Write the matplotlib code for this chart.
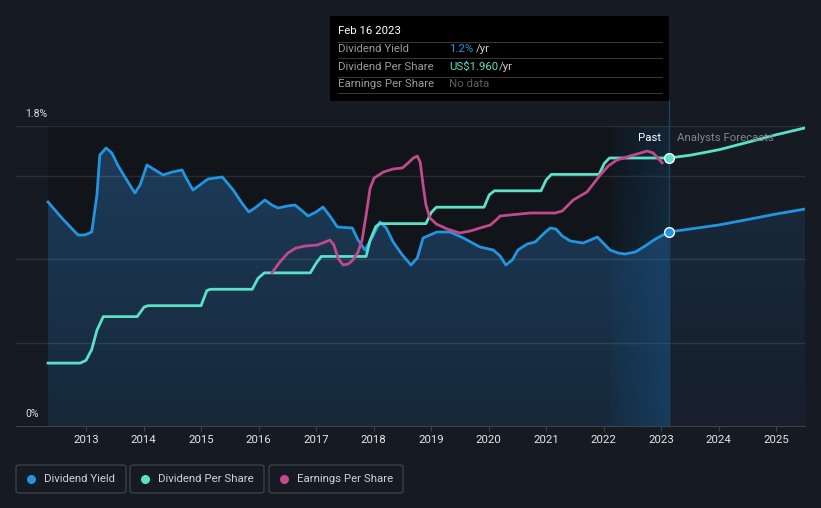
import matplotlib
matplotlib.use("Agg")
import matplotlib.pyplot as plt
import numpy as np
from matplotlib.colors import to_rgb
from matplotlib.lines import Line2D
from matplotlib.patches import Rectangle, FancyBboxPatch

plt.rcParams['font.family'] = ['Roboto', 'DejaVu Sans']

# ---- data ----
yield_dates = [2012.34, 2012.58, 2012.86, 2012.98, 2013.10, 2013.19, 2013.24, 2013.35, 2013.45, 2013.56,
               2013.73, 2013.85, 2013.94, 2014.06, 2014.20, 2014.34, 2014.50, 2014.67, 2014.76, 2014.86,
               2014.98, 2015.12, 2015.37, 2015.56, 2015.71, 2015.83, 2015.96, 2016.11, 2016.23, 2016.34,
               2016.50, 2016.63, 2016.72, 2016.86, 2017.00, 2017.12, 2017.24, 2017.37, 2017.63, 2017.73,
               2017.85, 2017.97, 2018.11, 2018.22, 2018.34, 2018.50, 2018.65, 2018.76, 2018.86, 2019.10,
               2019.33, 2019.56, 2019.85, 2020.08, 2020.20, 2020.30, 2020.41, 2020.51, 2020.67, 2020.81,
               2020.95, 2021.07, 2021.17, 2021.28, 2021.42, 2021.64, 2021.77, 2021.89, 2021.99, 2022.11,
               2022.25, 2022.37, 2022.55, 2022.72, 2022.90, 2023.13]
yield_pct = [1.344, 1.248, 1.146, 1.146, 1.164, 1.386, 1.626, 1.668, 1.638, 1.560,
             1.464, 1.398, 1.446, 1.566, 1.536, 1.506, 1.524, 1.536, 1.476, 1.416,
             1.446, 1.482, 1.494, 1.416, 1.338, 1.284, 1.314, 1.356, 1.326, 1.308,
             1.320, 1.326, 1.302, 1.260, 1.284, 1.314, 1.260, 1.194, 1.188, 1.116,
             1.056, 1.128, 1.224, 1.188, 1.104, 1.026, 0.966, 1.008, 1.128, 1.164,
             1.164, 1.128, 1.074, 1.056, 1.020, 0.966, 0.996, 1.056, 1.092, 1.104,
             1.152, 1.188, 1.182, 1.140, 1.110, 1.098, 1.116, 1.134, 1.098, 1.056,
             1.038, 1.032, 1.044, 1.080, 1.122, 1.164]
yield_fc_dates = [2023.13, 2023.50, 2024.00, 2024.55, 2025.00, 2025.50]
yield_fc_pct = [1.164, 1.182, 1.206, 1.242, 1.272, 1.302]

dps_dates = [2012.34, 2012.90, 2013.00, 2013.10, 2013.19, 2013.30, 2013.89, 2014.01, 2014.08, 2015.00,
             2015.10, 2015.16, 2015.89, 2015.99, 2016.10, 2016.90, 2017.00, 2017.09, 2017.87, 2017.94,
             2018.04, 2018.11, 2018.91, 2019.00, 2019.09, 2019.92, 2020.01, 2020.10, 2020.91, 2021.00,
             2021.09, 2021.92, 2022.01, 2022.10, 2023.13]
dps_usd = [0.46, 0.46, 0.48, 0.56, 0.70, 0.80, 0.80, 0.87, 0.88, 0.88,
           0.99, 1.00, 1.00, 1.08, 1.12, 1.12, 1.19, 1.24, 1.24, 1.36,
           1.46, 1.48, 1.48, 1.56, 1.60, 1.60, 1.69, 1.72, 1.72, 1.80,
           1.84, 1.84, 1.92, 1.96, 1.96]
dps_fc_dates = [2023.13, 2023.50, 2024.00, 2024.55, 2025.00, 2025.50]
dps_fc_usd = [1.96, 1.98, 2.02, 2.08, 2.13, 2.18]

eps_dates = [2016.23, 2016.37, 2016.51, 2016.65, 2016.81, 2017.02, 2017.16, 2017.24, 2017.31, 2017.38,
             2017.47, 2017.56, 2017.64, 2017.73, 2017.80, 2017.87, 2017.94, 2018.01, 2018.17, 2018.34,
             2018.50, 2018.60, 2018.69, 2018.76, 2018.81, 2018.86, 2018.91, 2018.98, 2019.09, 2019.28,
             2019.50, 2019.68, 2019.85, 2020.03, 2020.13, 2020.20, 2020.37, 2020.72, 2021.16, 2021.28,
             2021.47, 2021.71, 2021.94, 2022.08, 2022.23, 2022.46, 2022.76, 2022.86, 2023.02]
eps_usd = [1.53, 1.64, 1.73, 1.78, 1.80, 1.81, 1.84, 1.86, 1.81, 1.68,
           1.61, 1.62, 1.66, 1.74, 1.86, 2.11, 2.38, 2.48, 2.54, 2.57,
           2.58, 2.63, 2.68, 2.70, 2.64, 2.41, 2.21, 2.08, 2.02, 1.97,
           1.93, 1.95, 1.98, 2.01, 2.06, 2.10, 2.11, 2.13, 2.13, 2.15,
           2.26, 2.34, 2.51, 2.60, 2.66, 2.70, 2.75, 2.73, 2.63]

years = list(range(2013, 2026))
today = 2023.13
band_start = 2022.13

BG = '#151a23'
BLUE = '#2394df'
TEAL = '#5ce0c8'
PINK = '#c2498b'

W, H = 821, 508
fig = plt.figure(figsize=(W / 100, H / 100), dpi=100, facecolor=BG)


def fx(px):
    return px / W


def fy(py):
    return 1 - py / H


ax = fig.add_axes([fx(16), fy(426), fx(805) - fx(16), fy(126) - fy(426)])
ax.set_facecolor(BG)
x0, x1 = 2011.783, 2025.5
ax.set_xlim(x0, x1)
ax.set_ylim(0, 1.8)

# darker background for the past
ax.axvspan(yield_dates[0], today, color='#111419', lw=0, zorder=0.5)

# gradient fill under dividend yield
fill_x = yield_dates + yield_fc_dates[1:]
fill_y = yield_pct + yield_fc_pct[1:]
poly = ax.fill_between(fill_x, fill_y, 0, facecolor='none', lw=0)
xs = np.linspace(x0, x1, 600)
t = np.linspace(1, 0, 200)[:, None, None]
past = (xs <= today)[None, :, None]
pt, pb = np.array(to_rgb('#1d3d5c')), np.array(to_rgb('#16283a'))
ft, fb = np.array(to_rgb('#1a2c40')), np.array(to_rgb('#161f2b'))
rgb = np.where(past, pb + (pt - pb) * t, fb + (ft - fb) * t)
im = ax.imshow(rgb, extent=(x0, x1, 0, 1.8), aspect='auto', zorder=1, interpolation='bilinear')
im.set_clip_path(poly.get_paths()[0], ax.transData)

# highlighted last-year band (stronger to the right and toward the bottom)
bx = np.linspace(0.07, 0.34, 100)[None, :]
by = np.linspace(0.65, 1.0, 50)[:, None]
band = np.zeros((50, 100, 4))
band[..., :3] = to_rgb('#1666a7')
band[..., 3] = bx * by
ax.imshow(band, extent=(band_start, today, 0, 1.8), aspect='auto', zorder=1.6)

for g in [0.5, 1.0, 1.5, 1.8]:
    ax.axhline(g, color='white', alpha=0.1, lw=1, zorder=1.5)

ax.plot([today, today], [0, 1.8 * (426 - 100) / 300], color='#21425e', lw=1,
        clip_on=False, zorder=1.7)

ax.set_xlim(x0, x1)
ax.set_ylim(0, 1.8)

ax.plot(yield_dates, yield_pct, color=BLUE, lw=2, solid_joinstyle='round', zorder=3)
ax.plot(yield_fc_dates, yield_fc_pct, color=BLUE, lw=2, solid_joinstyle='round', zorder=3)

for s in ['top', 'left', 'right']:
    ax.spines[s].set_visible(False)
ax.spines['bottom'].set_color('#3d424a')
ax.set_yticks([])
ax.set_xticks(years)
ax.set_xticklabels([str(y) for y in years])
ax.tick_params(axis='x', colors='#3d424a', labelcolor='#e6e6e6', labelsize=8.2, length=3.5, pad=3)

ax2 = ax.twinx()
ax2.set_ylim(0, 2.194)
ax2.set_axis_off()
ax2.plot(dps_dates, dps_usd, color=TEAL, lw=2, solid_joinstyle='round', zorder=3)
ax2.plot(dps_fc_dates, dps_fc_usd, color=TEAL, lw=2, solid_joinstyle='round', zorder=3)

ax3 = ax.twinx()
ax3.set_ylim(0, 3.0)
ax3.set_axis_off()
ax3.plot(eps_dates, eps_usd, color=PINK, lw=2, solid_joinstyle='round', solid_capstyle='round', zorder=3)

ax3.set_xlim(x0, x1)

ax2.plot([today], [dps_usd[-1]], 'o', ms=7, mfc=TEAL, mec='white', mew=1, zorder=6)
ax3.plot([today], [yield_pct[-1] / 1.8 * 3.0], 'o', ms=7, mfc=BLUE, mec='white', mew=1, zorder=6)

# axis value labels
fig.text(fx(25), fy(114), '1.8%', color='#e0e0e0', fontsize=7.5, va='center', ha='left')
fig.text(fx(25), fy(414), '0%', color='#e0e0e0', fontsize=7.5, va='center', ha='left')

fig.text(fx(661), fy(138), 'Past', color='white', fontsize=8.2, va='center', ha='right')
fig.text(fx(677), fy(138), 'Analysts Forecasts', color='#80868f', fontsize=8.2, va='center', ha='left')

# tooltip
fig.add_artist(Rectangle((fx(330), fy(101)), fx(669) - fx(330), (101 - 16) / H,
                         transform=fig.transFigure, facecolor='black', edgecolor='none', zorder=5))
for ly in [41.7, 58.3, 76.7, 93.3]:
    fig.add_artist(Line2D([fx(338), fx(662)], [fy(ly), fy(ly)], transform=fig.transFigure,
                          color='#353535', lw=0.8, zorder=6))
fig.text(fx(338), fy(31), 'Feb 16 2023', color='white', fontsize=8.2, va='center', zorder=7)
rows = [('Dividend Yield', '1.2%', BLUE, 475.5, ' /yr'),
        ('Dividend Per Share', 'US$1.960', TEAL, 499, ' /yr'),
        ('Earnings Per Share', 'No data', '#5f5f5f', None, '')]
for i, (lab, val, col, sx, suf) in enumerate(rows):
    yy = fy(49 + i * 17.5)
    fig.text(fx(338), yy, lab, color='#9a9a9a', fontsize=8.2, va='center', zorder=7)
    fig.text(fx(449), yy, val, color=col, fontsize=8.2, va='center', zorder=7)
    if sx:
        fig.text(fx(sx), yy, suf.strip(), color='#cfcfcf', fontsize=8.2, va='center', zorder=7)

# legend
legend = [('Dividend Yield', BLUE, 16, 126), ('Dividend Per Share', TEAL, 130, 264),
          ('Earnings Per Share', PINK, 269, 403)]
for lab, col, lx0, lx1 in legend:
    fig.add_artist(FancyBboxPatch((fx(lx0), fy(493)), fx(lx1) - fx(lx0), (493 - 465) / H,
                                  boxstyle='round,pad=0,rounding_size=0.004', transform=fig.transFigure,
                                  facecolor='none', edgecolor='#3b4048', lw=1))
    fig.add_artist(Line2D([fx(lx0 + 15)], [fy(479)], transform=fig.transFigure, marker='o',
                          ms=5.5, color=col, mec=col))
    fig.text(fx(lx0 + 28), fy(479), lab, color='#cfd2d6', fontsize=8.2, va='center', ha='left')

fig.savefig('out.png', dpi=100, facecolor=BG)
